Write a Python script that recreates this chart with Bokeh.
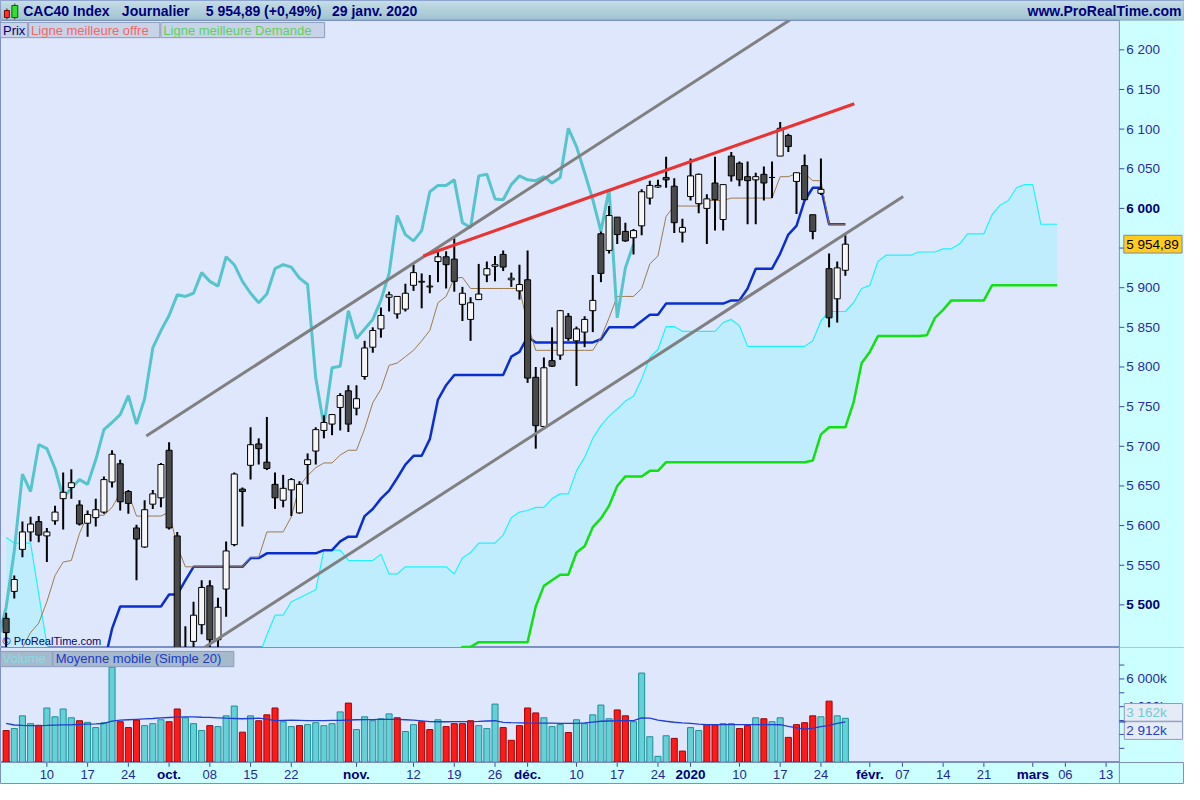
from bokeh.plotting import figure
from bokeh.layouts import column
from bokeh.models import Range1d
from bokeh.core.properties import value
from bokeh.embed import file_html
from bokeh.resources import INLINE

# ---------------------------------------------------------------- data
# x axis = trading-day index : -5 = 03/09/2019, 0 = 10/09/2019, 98 = 29/01/2020
first_index = -5

open_ = [5483, 5517, 5570, 5592, 5605, 5587, 5606, 5634, 5648, 5626,
         5603, 5610, 5617, 5655, 5678, 5643, 5597, 5573, 5627, 5635,
         5695, 5587, 5420, 5454, 5475, 5524, 5456, 5520, 5576, 5646,
         5676, 5703, 5680, 5652, 5632, 5645, 5616, 5677, 5694, 5720,
         5728, 5749, 5770, 5748, 5788, 5825, 5848, 5888, 5867, 5873,
         5903, 5907, 5901, 5933, 5939, 5936, 5879, 5860, 5885, 5916,
         5927, 5942, 5910, 5896, 5910, 5787, 5725, 5808, 5815, 5864,
         5833, 5844, 5871, 5968, 5947, 5989, 5971, 5963, 5978, 6013,
         6027, 6039, 6028, 5970, 6015, 6006, 6000, 6032, 5986, 6066,
         6057, 6040, 6036, 6043, 6039, 6066, 6092, 6034, 6054, 5992,
         6019, 5924, 5886, 5922]
high = [5490, 5537, 5605, 5611, 5612, 5597, 5625, 5667, 5671, 5632,
        5619, 5634, 5662, 5695, 5683, 5645, 5601, 5632, 5645, 5679,
        5705, 5592, 5473, 5504, 5531, 5531, 5509, 5580, 5667, 5648,
        5724, 5710, 5737, 5667, 5664, 5660, 5656, 5691, 5724, 5739,
        5740, 5767, 5777, 5777, 5833, 5850, 5875, 5895, 5889, 5905,
        5929, 5918, 5916, 5946, 5946, 5962, 5901, 5888, 5930, 5933,
        5940, 5947, 5919, 5929, 5947, 5800, 5812, 5850, 5872, 5868,
        5851, 5864, 5916, 5971, 6003, 5989, 5982, 5974, 6024, 6035,
        6036, 6065, 6038, 5987, 6063, 6044, 6018, 6065, 6030, 6071,
        6059, 6059, 6045, 6053, 6059, 6109, 6094, 6045, 6068, 5992,
        6063, 5943, 5933, 5966]
low = [5430, 5508, 5560, 5580, 5579, 5554, 5601, 5595, 5634, 5600,
       5586, 5599, 5615, 5648, 5619, 5615, 5531, 5572, 5621, 5623,
       5595, 5415, 5380, 5440, 5463, 5440, 5445, 5485, 5574, 5599,
       5658, 5677, 5670, 5621, 5623, 5612, 5615, 5652, 5677, 5710,
       5714, 5720, 5718, 5739, 5784, 5818, 5837, 5870, 5861, 5870,
       5896, 5874, 5893, 5907, 5899, 5895, 5858, 5833, 5885, 5907,
       5908, 5921, 5901, 5885, 5780, 5697, 5724, 5800, 5809, 5833,
       5776, 5825, 5844, 5907, 5943, 5955, 5958, 5942, 5966, 6005,
       6026, 6026, 5969, 5957, 6010, 5994, 5955, 5972, 5972, 6034,
       6028, 5980, 5980, 6010, 6013, 6066, 6071, 5993, 6011, 5961,
       6017, 5850, 5856, 5915]
close = [5465, 5532, 5592, 5602, 5588, 5592, 5617, 5642, 5654, 5602,
         5614, 5620, 5658, 5690, 5630, 5628, 5583, 5620, 5640, 5677,
         5597, 5425, 5440, 5487, 5522, 5456, 5497, 5568, 5665, 5643,
         5702, 5697, 5672, 5635, 5647, 5658, 5652, 5683, 5721, 5730,
         5740, 5764, 5728, 5760, 5824, 5846, 5865, 5891, 5889, 5893,
         5919, 5908, 5902, 5939, 5929, 5908, 5893, 5881, 5892, 5924,
         5929, 5926, 5912, 5904, 5786, 5726, 5799, 5801, 5871, 5836,
         5848, 5860, 5884, 5918, 5991, 5967, 5959, 5972, 6021, 6029,
         6029, 6036, 5982, 5976, 6041, 6043, 6012, 6011, 6030, 6041,
         6036, 6035, 6040, 6032, 6039, 6101, 6078, 6045, 6011, 5971,
         6024, 5862, 5925, 5954.89]

# volume in thousands, and bar colour (1 = red / down day)
volume_k = [2282, 2424, 3341, 2777, 2659, 3906, 3271, 3835, 3200, 2988,
            2871, 2494, 2847, 6850, 2918, 2494, 3035, 2635, 2777, 3059,
            2918, 3835, 3200, 2777, 2282, 2635, 2565, 3341, 4047, 2165,
            3341, 2988, 3412, 3906, 2918, 2565, 2635, 2706, 2847, 2635,
            2777, 3624, 4259, 2353, 3271, 2988, 3129, 3482, 3200, 2212,
            2706, 2918, 2353, 3059, 2565, 2777, 2777, 2988, 2635, 2424,
            4188, 2494, 1577, 2635, 3906, 3553, 3200, 2565, 2706, 2141,
            3059, 2777, 3412, 4118, 3130, 3765, 3341, 2918, 6424, 1835,
            424, 1906, 1718, 800, 2494, 2282, 2706, 2706, 2777, 2777,
            2424, 2635, 3200, 3130, 2918, 3200, 1788, 2706, 2847, 3341,
            3271, 4400, 3341, 3162]
volume_down = [1, 0, 0, 0, 1, 0, 0, 0, 0, 1,
               0, 0, 0, 0, 1, 1, 1, 0, 0, 0,
               1, 1, 0, 0, 0, 1, 0, 0, 0, 1,
               0, 1, 1, 1, 0, 0, 1, 0, 0, 0,
               0, 0, 1, 0, 0, 0, 0, 0, 1, 0,
               0, 1, 1, 0, 1, 1, 1, 1, 0, 0,
               0, 1, 1, 1, 1, 1, 0, 0, 0, 1,
               0, 0, 0, 0, 0, 1, 1, 0, 0, 0,
               0, 0, 1, 1, 0, 0, 1, 1, 0, 0,
               1, 1, 0, 1, 0, 0, 1, 1, 1, 1,
               0, 1, 0, 0]
volume_ma20 = [2800, 2680, 2650, 2640, 2635, 2650, 2670, 2690, 2700, 2720,
               2740, 2760, 2790, 2960, 3030, 3060, 3090, 3120, 3150, 3190,
               3220, 3250, 3270, 3260, 3240, 3225, 3200, 3170, 3150, 3130,
               3150, 3170, 3100, 2990, 3010, 3030, 3020, 3000, 2990, 3000,
               3010, 3015, 3040, 3060, 3070, 3075, 3080, 3082, 3080, 3060,
               3035, 2980, 2920, 2915, 2915, 2918, 2918, 2920, 2940, 2970,
               2988, 2870, 2845, 2835, 2824, 2820, 2815, 2810, 2805, 2800,
               2800, 2830, 2894, 2950, 2970, 2988, 2988, 2990, 3200, 3180,
               3030, 2950, 2880, 2830, 2800, 2750, 2710, 2706, 2706, 2706,
               2706, 2706, 2706, 2706, 2706, 2700, 2580, 2480, 2380, 2450,
               2560, 2660, 2800, 2912]

# Ichimoku lines
kijun = [5360, 5360, 5370, 5380, 5380, 5390, 5395, 5400, 5405, 5405,
         5410, 5415, 5425, 5470, 5498, 5498, 5498, 5498, 5498, 5498,
         5513, 5513, 5531, 5548, 5548, 5548, 5548, 5548, 5548, 5548,
         5559, 5559, 5565, 5565, 5565, 5565, 5565, 5565, 5565, 5569,
         5569, 5580, 5586, 5586, 5612, 5621, 5634, 5644, 5660, 5677,
         5688, 5688, 5709, 5759, 5777, 5790, 5790, 5790, 5790, 5790,
         5790, 5790, 5813, 5819, 5838, 5831, 5831, 5831, 5831, 5831,
         5831, 5831, 5831, 5835, 5850, 5850, 5850, 5850, 5858, 5866,
         5866, 5880, 5880, 5880, 5880, 5880, 5880, 5880, 5880, 5884,
         5884, 5899, 5924, 5924, 5924, 5943, 5967, 5978, 6010, 6026,
         6026, 5980, 5980, 5980]
tenkan = [5420, 5430, 5446, 5465, 5477, 5504, 5537, 5554, 5556, 5590,
          5613, 5613, 5613, 5623, 5641, 5641, 5612, 5612, 5612, 5612,
          5617, 5574, 5548, 5548, 5548, 5548, 5548, 5548, 5548, 5548,
          5560, 5560, 5592, 5592, 5592, 5611, 5650, 5663, 5673, 5679,
          5679, 5689, 5695, 5695, 5722, 5755, 5772, 5802, 5805, 5813,
          5821, 5833, 5846, 5881, 5889, 5912, 5913, 5899, 5899, 5899,
          5899, 5899, 5899, 5899, 5854, 5821, 5821, 5821, 5821, 5821,
          5821, 5821, 5821, 5837, 5862, 5889, 5889, 5889, 5899, 5930,
          5940, 5990, 6003, 6003, 6003, 6003, 6010, 6010, 6010, 6013,
          6013, 6013, 6013, 6013, 6013, 6040, 6040, 6044, 6044, 6035,
          6035, 5980, 5980, 5980]
# senkou spans run 26 sessions further (index -5 .. 124)
senkou_a = [5585, 5578, 5578, 5578, 5514, 5450, 5420, 5400, 5390, 5385,
            5380, 5380, 5375, 5370, 5370, 5375, 5380, 5385, 5390, 5395,
            5400, 5405, 5410, 5410, 5415, 5415, 5420, 5420, 5425, 5425,
            5430, 5435, 5462, 5487, 5487, 5504, 5509, 5514, 5519, 5569,
            5569, 5569, 5556, 5556, 5556, 5556, 5564, 5539, 5539, 5548,
            5548, 5548, 5548, 5548, 5548, 5539, 5559, 5566, 5578, 5578,
            5578, 5588, 5610, 5617, 5619, 5623, 5623, 5634, 5640, 5640,
            5669, 5686, 5710, 5726, 5738, 5747, 5757, 5763, 5785, 5812,
            5822, 5851, 5851, 5845, 5845, 5845, 5845, 5845, 5856, 5860,
            5852, 5826, 5826, 5826, 5826, 5826, 5826, 5826, 5826, 5833,
            5858, 5870, 5870, 5870, 5881, 5899, 5903, 5933, 5941, 5941,
            5941, 5941, 5945, 5945, 5945, 5949, 5949, 5955, 5968, 5968,
            5968, 5992, 6004, 6010, 6026, 6030, 6030, 5980, 5980, 5980]
senkou_b = [5330, 5330, 5330, 5330, 5330, 5330, 5330, 5330, 5330, 5330,
            5340, 5340, 5340, 5340, 5340, 5340, 5340, 5340, 5340, 5340,
            5350, 5350, 5350, 5350, 5350, 5350, 5350, 5350, 5350, 5350,
            5360, 5360, 5360, 5360, 5360, 5360, 5360, 5360, 5360, 5360,
            5380, 5380, 5380, 5380, 5380, 5380, 5380, 5380, 5380, 5380,
            5400, 5400, 5410, 5420, 5430, 5435, 5447, 5447, 5453, 5453,
            5453, 5453, 5453, 5453, 5453, 5498, 5524, 5531, 5538, 5538,
            5566, 5574, 5598, 5609, 5625, 5650, 5662, 5662, 5662, 5669,
            5669, 5680, 5680, 5680, 5680, 5680, 5680, 5680, 5680, 5680,
            5680, 5680, 5680, 5680, 5680, 5680, 5680, 5680, 5680, 5682,
            5715, 5724, 5724, 5724, 5755, 5805, 5819, 5839, 5839, 5839,
            5839, 5839, 5839, 5840, 5862, 5872, 5884, 5884, 5884, 5884,
            5884, 5903, 5903, 5903, 5903, 5903, 5903, 5903, 5903, 5903]
chikou_shift = 26

# hand-drawn lines (index, price)
channel_top_x = [12.2, 92.3]
channel_top_y = [5713, 6245]
channel_bottom_x = [19.0, 105.1]
channel_bottom_y = [5444, 6015]
resistance_x = [46.2, 99.1]
resistance_y = [5940, 6132]

price_ticks = [5500, 5550, 5600, 5650, 5700, 5750, 5800, 5850, 5900,
               5950, 6000, 6050, 6100, 6150, 6200]
price_labels = ["5 500", "5 550", "5 600", "5 650", "5 700", "5 750", "5 800",
                "5 850", "5 900", "5 950", "6 000", "6 050", "6 100", "6 150", "6 200"]
price_bold = ["5 500", "6 000"]
last_price_text = "5 954,89"

vol_ticks_k = [1000, 2000, 3000, 4000, 5000, 6000, 7000]
vol_label_ticks = [2000, 4000, 6000]
vol_labels = ["2 000k", "4 000k", "6 000k"]
last_volume_text = "3 162k"
last_ma_text = "2 912k"

x_tick_pos = [0, 5, 10, 15, 20, 25, 30, 38, 45, 50, 55, 59, 65, 70, 75,
              79, 85, 90, 95, 101, 105, 110, 115, 121, 125, 130]
x_tick_text = ["10", "17", "24", "oct.", "08", "15", "22", "nov.", "12", "19",
               "26", "déc.", "10", "17", "24", "2020", "10", "17", "24",
               "févr.", "07", "14", "21", "mars", "06", "13"]
month_labels = ["oct.", "nov.", "déc.", "2020", "févr.", "mars"]

# ---------------------------------------------------------------- layout
W = 1184
FONT = value("Liberation Sans")
BG = "#dfe7fd"
BAND = "#ccffff"
EDGE = "#7b90c4"


def ix(px):          # reference pixel column -> trading-day index
    return (px - 47.0) / 8.258


def pprice(py):      # reference pixel row -> price (main panel)
    return 6000 - (py - 211.8) / 0.8094


def pvol(py):        # reference pixel row -> volume in k (volume panel)
    return (776.7 - py) / 0.01412


xr = Range1d(ix(0), ix(1200))
BAND_L = ix(1134)
BAND_R = ix(1200)


def make_fig(h, x_range, y_range, bg):
    p = figure(width=W, height=h, x_range=x_range, y_range=y_range,
               output_backend="svg", toolbar_location=None,
               x_axis_location=None, y_axis_location=None,
               min_border=0, min_border_left=0, min_border_right=0,
               min_border_top=0, min_border_bottom=0,
               background_fill_color=bg, border_fill_color=bg)
    p.outline_line_color = EDGE
    p.grid.grid_line_color = None
    return p


def txt(p, x, y, t, color, size="13px", style="normal", align="left"):
    p.text(x=x, y=y, text=t, text_color=color, text_font=FONT,
           text_font_size=size, text_font_style=style, text_align=align,
           text_baseline="middle")


idx = list(range(first_index, first_index + len(close)))
cloud_idx = list(range(first_index, first_index + len(senkou_a)))

# ---------------------------------------------------------------- header
hdr = make_fig(20, Range1d(0, 1200), Range1d(20, 0), "#b4d1dc")
for k in range(20):
    t = k / 19.0
    r = int(203 - 50 * t)
    g = int(226 - 36 * t)
    b = int(234 - 30 * t)
    hdr.quad(left=0, right=1200, top=k, bottom=k + 1,
             fill_color="#%02x%02x%02x" % (r, g, b), line_color=None)
hdr.segment(x0=[6.5, 14.5], x1=[6.5, 14.5], y0=[8, 3], y1=[19, 19],
            line_color="#333333", line_width=1)
hdr.quad(left=[4, 11.5], right=[9, 17.5], top=[10, 5], bottom=[17, 17],
         fill_color=["#ff3030", "#33dd33"], line_color=["#800000", "#006600"])
txt(hdr, [23], [10.5], ["CAC40 Index"], "#00007a", "14px", "bold")
txt(hdr, [123], [10.5], ["Journalier"], "#00007a", "14px", "bold")
txt(hdr, [208], [10.5], ["5 954,89 (+0,49%)"], "#00007a", "14px", "bold")
txt(hdr, [336], [10.5], ["29 janv. 2020"], "#00007a", "14px", "bold")
txt(hdr, [1197], [10.5], ["www.ProRealTime.com"], "#00007a", "14px", "bold", "right")

# ---------------------------------------------------------------- main panel
main = make_fig(627, xr, Range1d(pprice(660), pprice(20)), BG)

main.varea(x=cloud_idx, y1=senkou_a, y2=senkou_b, fill_color="#c0edfd")
main.line(cloud_idx, senkou_a, line_color="#1ff2ff", line_width=1.2)
main.line(cloud_idx, senkou_b, line_color="#12e012", line_width=2.5)
main.line(idx, kijun, line_color="#0b2fcf", line_width=2.5)
main.line(idx, tenkan, line_color="#9c7b4c", line_width=1)
main.line([i - chikou_shift for i in idx], close, line_color="#56c4cc", line_width=3)

body_top = [max(o, c) for o, c in zip(open_, close)]
body_bot = [min(o, c) for o, c in zip(open_, close)]
body_col = ["#f6f6f6" if c >= o else "#4a4a4a" for o, c in zip(open_, close)]
main.segment(x0=idx, x1=idx, y0=low, y1=high, line_color="black", line_width=2)
main.vbar(x=idx, width=0.74, top=body_top, bottom=body_bot,
          fill_color=body_col, line_color="black", line_width=1)

main.line(channel_top_x, channel_top_y, line_color="#808080", line_width=3)
main.line(channel_bottom_x, channel_bottom_y, line_color="#808080", line_width=3)
main.line(resistance_x, resistance_y, line_color="#ea3434", line_width=3.2)

# right price scale
main.quad(left=BAND_L, right=BAND_R, bottom=pprice(662), top=pprice(18),
          fill_color=BAND, line_color=None)
main.segment(x0=[BAND_L], x1=[BAND_L], y0=[pprice(662)], y1=[pprice(18)],
             line_color=EDGE, line_width=1)
main.segment(x0=BAND_L, x1=ix(1139), y0=price_ticks, y1=price_ticks,
             line_color="#3a4aa8", line_width=1)
reg_t = [(y, l) for y, l in zip(price_ticks, price_labels) if l not in price_bold]
bold_t = [(y, l) for y, l in zip(price_ticks, price_labels) if l in price_bold]
txt(main, [ix(1141)] * len(reg_t), [y for y, _ in reg_t], [l for _, l in reg_t],
    "#2a2aa6", "13.5px")
txt(main, [ix(1141)] * len(bold_t), [y for y, _ in bold_t], [l for _, l in bold_t],
    "#00007a", "13.5px", "bold")
last = close[-1]
main.quad(left=ix(1138.5), right=ix(1197.5), top=last + 11.2, bottom=last - 11.2,
          fill_color="#ffcc1c", line_color="#7d86aa")
txt(main, [ix(1141)], [last], [last_price_text], "#000000", "13.5px")

# legend boxes
main.quad(left=[ix(0), ix(28.5), ix(162.5)], right=[ix(27.5), ix(161.5), ix(328.5)],
          top=[pprice(22)] * 3, bottom=[pprice(37.5)] * 3,
          fill_color="#c9d3e7", line_color="#8d9cc0")
txt(main, [ix(2.5)], [pprice(30)], ["Prix"], "#00007a")
txt(main, [ix(31)], [pprice(30)], ["Ligne meilleure offre"], "#f06868")
txt(main, [ix(165)], [pprice(30)], ["Ligne meilleure Demande"], "#5ed05e")
txt(main, [ix(2)], [pprice(653)], ["© ProRealTime.com"], "#00007a", "11px")

# ---------------------------------------------------------------- volume panel
vol = make_fig(115, xr, Range1d(pvol(777), pvol(660)), BG)
vol.vbar(x=idx, width=0.74, top=volume_k, bottom=0,
         fill_color=["#ff1a1a" if d else "#66d0d8" for d in volume_down],
         line_color=["#a00000" if d else "#1d8f96" for d in volume_down],
         line_width=1)
vol.line(idx, volume_ma20, line_color="#1f3fd0", line_width=1.3)

vol.quad(left=BAND_L, right=BAND_R, bottom=pvol(780), top=pvol(658),
         fill_color=BAND, line_color=None)
vol.segment(x0=[BAND_L], x1=[BAND_L], y0=[pvol(780)], y1=[pvol(658)],
            line_color=EDGE, line_width=1)
vol.segment(x0=BAND_L, x1=ix(1139), y0=vol_ticks_k, y1=vol_ticks_k,
            line_color="#3a4aa8", line_width=1)
txt(vol, [ix(1141)] * 3, vol_label_ticks, vol_labels, "#2a2aa6", "13.5px")
vol.quad(left=[ix(1139), ix(1139)], right=[ix(1198), ix(1198)],
         top=[pvol(717), pvol(735.5)], bottom=[pvol(735), pvol(753.5)],
         fill_color="#e6ecf6", line_color="#8d9cc0")
txt(vol, [ix(1141)], [pvol(726)], [last_volume_text], "#6ccbd4", "13.5px")
txt(vol, [ix(1141)], [pvol(744.5)], [last_ma_text], "#2040c4", "13.5px")
vol.segment(x0=[BAND_L], x1=[ix(1140)], y0=[volume_ma20[-1]], y1=[volume_ma20[-1]],
            line_color="#1f3fd0", line_width=1.3)

vol.quad(left=[ix(0), ix(53)], right=[ix(52.5), ix(236.5)],
         top=[pvol(664)] * 2, bottom=[pvol(679.5)] * 2,
         fill_color="#a7bacb", line_color="#8d9cc0")
txt(vol, [ix(2)], [pvol(671.5)], ["Volume"], "#86dce3")
txt(vol, [ix(56)], [pvol(671.5)], ["Moyenne mobile (Simple 20)"], "#1a3bc6")

# ---------------------------------------------------------------- date axis
strip = make_fig(22, xr, Range1d(800, 777), BAND)
strip.segment(x0=x_tick_pos, x1=x_tick_pos, y0=[777] * len(x_tick_pos),
              y1=[781.5] * len(x_tick_pos), line_color="#3a4aa8", line_width=1)
strip.segment(x0=[BAND_L], x1=[BAND_L], y0=[777], y1=[800],
              line_color=EDGE, line_width=1)
reg_x = [(x, t) for x, t in zip(x_tick_pos, x_tick_text) if t not in month_labels]
mon_x = [(x, t) for x, t in zip(x_tick_pos, x_tick_text) if t in month_labels]
txt(strip, [x for x, _ in reg_x], [789.5] * len(reg_x), [t for _, t in reg_x],
    "#1e2a98", "13px", "normal", "center")
txt(strip, [x for x, _ in mon_x], [789.5] * len(mon_x), [t for _, t in mon_x],
    "#00007a", "13.5px", "bold", "center")

layout = column(hdr, main, vol, strip, spacing=0)
open("out.html", "w").write(file_html(layout, INLINE))
